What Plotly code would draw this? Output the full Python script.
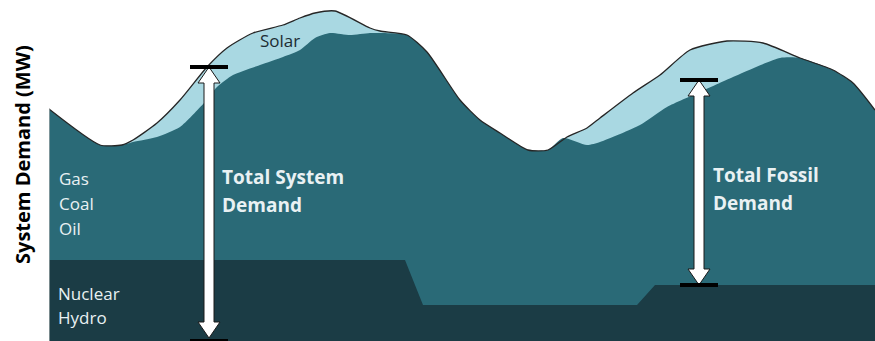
import plotly.graph_objects as go

# ---- data (x = time position, y = demand level) ----
total_x = [49, 100, 122, 133, 157, 180, 207, 227, 253, 283, 300, 315, 335, 370, 380, 407, 427, 460,
           480, 500, 528, 548, 567, 587, 600, 633, 660, 690, 727, 763, 800, 833, 853, 875]
total_demand = [232, 196, 196, 201, 218, 241, 274, 293, 308, 316, 323, 328, 330, 313, 310, 306, 289, 241,
                221, 208, 191, 191, 204, 213, 223, 248, 266, 291, 300, 298, 283, 271, 258, 231]

fossil_x = [49, 100, 122, 133, 157, 180, 204, 217, 233, 260, 283, 300, 315, 330, 350, 370, 383, 407, 427,
            460, 480, 500, 528, 548, 563, 587, 600, 640, 667, 700, 733, 780, 800, 833, 853, 875]
fossil_top = [232, 196, 196, 199, 204, 214, 238, 254, 266, 276, 284, 291, 303, 308, 306, 308, 308, 306, 289,
              241, 221, 208, 191, 191, 203, 196, 199, 216, 234, 249, 264, 283, 283, 271, 258, 231]

base_x = [49, 405, 423, 637, 655, 875]
baseload = [81, 81, 36, 36, 56, 56]

# arrows: (x position, bottom value, top value)
arrow_system = (209, 3, 274)
arrow_fossil = (699, 56, 261)

SOLAR = "#a9d8e2"
FOSSIL = "#2a6a77"
BASE = "#1b3c45"
LABEL = "#e9f1f3"
FONT = "Open Sans"
CURVE = dict(shape="spline", smoothing=0.6)

fig = go.Figure()
fig.add_trace(go.Scatter(x=total_x, y=total_demand, mode="lines", fill="tozeroy",
                         fillcolor=SOLAR, line=dict(width=0, color=SOLAR, **CURVE), hoverinfo="skip"))
fig.add_trace(go.Scatter(x=fossil_x, y=fossil_top, mode="lines", fill="tozeroy",
                         fillcolor=FOSSIL, line=dict(width=0, color=FOSSIL, **CURVE), hoverinfo="skip"))
fig.add_trace(go.Scatter(x=base_x, y=baseload, mode="lines", fill="tozeroy",
                         fillcolor=BASE, line=dict(width=0, color=BASE), hoverinfo="skip"))
fig.add_trace(go.Scatter(x=total_x, y=total_demand, mode="lines",
                         line=dict(width=1.3, color="#262626", **CURVE), hoverinfo="skip"))
fig.add_trace(go.Scatter(x=[total_x[0], total_x[0]], y=[0, total_demand[0]], mode="lines",
                         line=dict(width=1.5, color="#9aa4a6"), hoverinfo="skip"))

shapes = []
for (ax, y0, y1) in (arrow_system, arrow_fossil):
    hw, sw, hl = 11, 5, 16
    pts = [(ax, y1), (ax + hw, y1 - hl), (ax + sw, y1 - hl), (ax + sw, y0 + hl), (ax + hw, y0 + hl),
           (ax, y0), (ax - hw, y0 + hl), (ax - sw, y0 + hl), (ax - sw, y1 - hl), (ax - hw, y1 - hl)]
    path = "M " + " L ".join(f"{px},{py}" for px, py in pts) + " Z"
    shapes.append(dict(type="path", path=path, xref="x", yref="y", fillcolor="white",
                       line=dict(color="#1a1a1a", width=1)))
for ax, yb in ((arrow_system[0], arrow_system[2]), (arrow_fossil[0], arrow_fossil[2]),
               (arrow_fossil[0], arrow_fossil[1])):
    shapes.append(dict(type="line", xref="x", yref="y", x0=ax - 19, x1=ax + 19, y0=yb, y1=yb,
                       line=dict(color="black", width=4)))
shapes.append(dict(type="line", xref="x", yref="y", x0=arrow_system[0] - 19, x1=arrow_system[0] + 19,
                   y0=0, y1=0, line=dict(color="black", width=4)))

annotations = []
def txt(x, y, s, bold=False, color=LABEL, size=17):
    annotations.append(dict(x=x, y=y, xref="x", yref="y", text=f"<b>{s}</b>" if bold else s,
                            showarrow=False, xanchor="left", yanchor="middle",
                            font=dict(family=FONT, size=size, color=color)))

txt(57, 341 - 178, "Gas")
txt(57, 341 - 203, "Coal")
txt(57, 341 - 228, "Oil")
txt(56, 341 - 293, "Nuclear")
txt(56, 341 - 317, "Hydro")
txt(258, 341 - 40, "Solar", color="#1c2c33", size=17)
txt(220, 341 - 177, "Total System", bold=True, size=19)
txt(220, 341 - 205, "Demand", bold=True, size=19)
txt(711, 341 - 175, "Total Fossil", bold=True, size=19)
txt(711, 341 - 203, "Demand", bold=True, size=19)

annotations.append(dict(x=0, y=(341 - 155) / 341, xref="paper", yref="paper", text="<b>System Demand (MW)</b>",
                        textangle=-90, showarrow=False, xanchor="center", yanchor="middle", xshift=-27,
                        font=dict(family=FONT, size=20, color="black")))

fig.update_layout(
    width=875, height=341, margin=dict(l=49, r=0, t=0, b=0),
    paper_bgcolor="white", plot_bgcolor="white", showlegend=False,
    xaxis=dict(range=[49, 875], visible=False, fixedrange=True),
    yaxis=dict(range=[0, 341], visible=False, fixedrange=True),
    shapes=shapes, annotations=annotations,
)

fig.write_html("out.html", config={"displayModeBar": False},
               post_script="document.body.style.margin='0';document.body.style.overflow='hidden';")
